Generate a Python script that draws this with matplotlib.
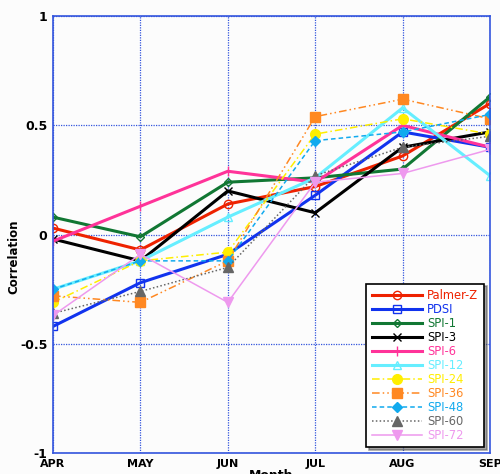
import matplotlib
matplotlib.use("Agg")
import matplotlib.pyplot as plt

months = ["APR", "MAY", "JUN", "JUL", "AUG", "SEP"]
series_names = ["Palmer-Z", "PDSI", "SPI-1", "SPI-3", "SPI-6", "SPI-12",
                "SPI-24", "SPI-36", "SPI-48", "SPI-60", "SPI-72"]

palmer_z = [0.03, -0.07, 0.14, 0.22, 0.36, 0.60]
pdsi     = [-0.42, -0.22, -0.09, 0.18, 0.47, 0.40]
spi_1    = [0.08, -0.01, 0.24, 0.26, 0.30, 0.63]
spi_3    = [-0.02, -0.12, 0.20, 0.10, 0.40, 0.47]
spi_6    = [-0.03, 0.13, 0.29, 0.24, 0.50, 0.40]
spi_12   = [-0.25, -0.12, 0.08, 0.26, 0.58, 0.27]
spi_24   = [-0.31, -0.12, -0.08, 0.46, 0.53, 0.46]
spi_36   = [-0.28, -0.31, -0.12, 0.54, 0.62, 0.53]
spi_48   = [-0.25, -0.12, -0.12, 0.43, 0.47, 0.55]
spi_60   = [-0.36, -0.26, -0.15, 0.27, 0.40, 0.45]
spi_72   = [-0.37, -0.09, -0.31, 0.24, 0.28, 0.39]

data = [palmer_z, pdsi, spi_1, spi_3, spi_6, spi_12,
        spi_24, spi_36, spi_48, spi_60, spi_72]

styles = [
    dict(color="#ee2200", ls="-", lw=2.2, marker="o", ms=6, mfc="none", mew=1.0),
    dict(color="#1133ee", ls="-", lw=2.2, marker="s", ms=6, mfc="none", mew=1.0),
    dict(color="#117733", ls="-", lw=2.2, marker="D", ms=4, mfc="none", mew=1.0),
    dict(color="#000000", ls="-", lw=2.2, marker="x", ms=6, mew=1.0),
    dict(color="#ff3399", ls="-", lw=2.2, marker="|", ms=7, mew=1.0),
    dict(color="#66eeff", ls="-", lw=2.2, marker="^", ms=6, mfc="none", mew=1.0),
    dict(color="#ffee00", ls=(0, (5, 2, 1, 2)), lw=1.1, marker="o", ms=7, mfc="#ffee00", mec="#ffee00"),
    dict(color="#ff8822", ls=(0, (5, 2, 1, 2, 1, 2)), lw=1.1, marker="s", ms=7, mfc="#ff8822", mec="#ff8822"),
    dict(color="#11aaee", ls=(0, (3, 2)), lw=1.1, marker="D", ms=5, mfc="#11aaee", mec="#11aaee"),
    dict(color="#666666", ls=(0, (1, 1.5)), lw=1.1, marker="^", ms=7, mfc="#666666", mec="#666666"),
    dict(color="#ee99ee", ls="-", lw=1.1, marker="v", ms=7, mfc="#ee99ee", mec="#ee99ee"),
]

fig = plt.figure(figsize=(5.0, 4.74), dpi=100, facecolor="#fcfcfc")
ax = fig.add_axes([0.106, 0.044, 0.874, 0.922])
ax.set_facecolor("#fcfcfc")

x = list(range(len(months)))
for name, vals, st in zip(series_names, data, styles):
    ax.plot(x, vals, label=name, **st)

ax.set_xlim(0, len(months) - 1)
ax.set_ylim(-1, 1)
ax.set_xticks(x)
ax.set_xticklabels(months, fontweight="bold", fontsize=8)
ax.set_yticks([-1, -0.5, 0, 0.5, 1])
ax.set_yticklabels(["-1", "-0.5", "0", "0.5", "1"], fontweight="bold", fontsize=9)
ax.tick_params(length=0, pad=4)
ax.grid(True, color="#3355dd", ls=(0, (1, 1)), lw=0.9)
for s in ax.spines.values():
    s.set_color("#3355dd")
    s.set_linewidth(1.2)
ax.set_ylabel("Correlation", fontweight="bold", fontsize=8.5)
ax.yaxis.set_label_coords(-0.075, 0.45)
ax.set_xlabel("Month", fontweight="bold", fontsize=9, labelpad=0)

leg = ax.legend(loc="lower right", fontsize=8.3, handlelength=4.3, handletextpad=0.5,
                labelspacing=0.08, borderpad=0.5, fancybox=False, shadow=True,
                framealpha=1, edgecolor="black", bbox_to_anchor=(1.0, 0.0))
leg.get_frame().set_linewidth(1.2)
for txt, st in zip(leg.get_texts(), styles):
    txt.set_color(st["color"])

fig.savefig("out.png", dpi=100, facecolor=fig.get_facecolor())
